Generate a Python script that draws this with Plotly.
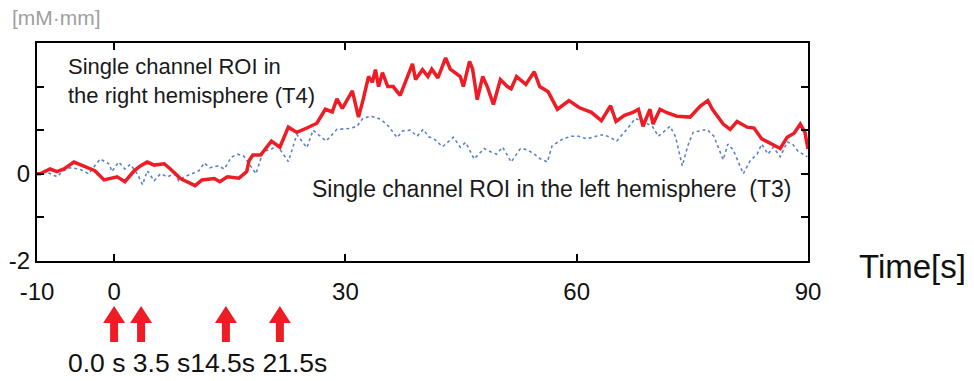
import plotly.graph_objects as go

# Right hemisphere (T4) - red solid
t_t4 = [-10, -9.6, -8.3, -7.4, -6.5, -5.2, -4.4, -3.5, -2.5, -1.3, -0.5, 0.4, 1.4, 2.6, 3.4, 4.3, 5.2,
        6.5, 7.3, 8.6, 10.5, 11.4, 13, 13.7, 14.7, 16.2, 17.2, 17.5, 18, 19, 20.4, 21.5, 22.6, 23.7,
        25, 26.3, 27.4, 28.3, 28.9, 29.6, 30.9, 31.7, 32.3, 33.0, 33.5, 33.9, 34.3, 34.8, 35.5, 36.2,
        37.1, 38.0, 38.7, 39.1, 40.0, 40.7, 41.2, 42.0, 43.0, 43.6, 44.9, 45.3, 46.1, 46.5, 47.1, 47.8,
        48.4, 49.2, 50.1, 51.0, 51.5, 52.2, 53.4, 54.5, 55.2, 56.3, 57.5, 59.0, 60.3, 61.9, 63.2, 64.4,
        65.1, 66.2, 67.3, 68.0, 68.6, 69.5, 69.9, 70.8, 71.7, 73.0, 74.7, 76.0, 77.0, 77.6, 79.0, 79.9,
        80.8, 82.1, 83.0, 84.0, 85.3, 86.4, 87.3, 88.2, 89.0, 89.6, 90]
v_t4 = [0, 0.0, 0.11, 0.05, 0.11, 0.27, 0.21, 0.14, 0.07, -0.14, -0.1, -0.07, -0.18, 0.07, 0.18, 0.27, 0.2,
        0.23, 0.11, -0.11, -0.27, -0.14, -0.11, -0.18, -0.07, -0.1, 0.05, 0.3, 0.43, 0.43, 0.75, 0.61, 1.07, 0.95,
        1.05, 1.16, 1.48, 1.42, 1.72, 1.5, 1.9, 1.3, 1.7, 2.23, 2.1, 2.39, 2.0, 2.32, 2.0, 2.0,
        1.8, 2.23, 2.52, 2.16, 2.39, 2.23, 2.4, 2.2, 2.66, 2.4, 2.23, 2.0, 2.58, 2.4, 1.7, 2.23,
        2.0, 1.59, 2.16, 2.0, 1.95, 2.23, 2.05, 2.34, 2.0, 1.88, 1.48, 1.68, 1.52, 1.41, 1.22, 1.56,
        1.2, 1.34, 1.41, 1.48, 1.09, 1.48, 1.14, 1.48, 1.4, 1.32, 1.3, 1.55, 1.68, 1.48, 1.14, 1.02,
        1.2, 1.07, 1.05, 0.8, 0.68, 0.58, 0.84, 0.93, 1.14, 0.95, 0.57]

# Left hemisphere (T3) - blue dotted
t_t3 = [-10, -9.6, -8.8, -7.4, -6.6, -5.7, -4.5, -3.3, -2.6, -1.8, -0.6, -0.3, 0.6, 1.4, 2.1, 3.0, 3.7,
        4.3, 5.2, 6.0, 6.9, 7.8, 8.4, 9.1, 10.1, 11.0, 11.7, 12.4, 13.5, 14.3, 15.2, 16.0, 16.8, 17.6,
        18.4, 19.3, 20.4, 21.2, 22.6, 23.7, 25.0, 25.8, 26.7, 27.5, 28.9, 30.6, 31.5, 32.3, 33.4, 34.6,
        35.6, 36.7, 37.4, 38.4, 39.3, 40.1, 40.8, 41.5, 42.6, 44.0, 44.9, 45.6, 46.7, 48.0, 48.9, 49.6,
        50.4, 51.5, 52.7, 53.6, 54.5, 55.3, 56.2, 56.8, 58.2, 59.3, 60.3, 61.3, 62.5, 63.5, 64.5, 65.2,
        66.5, 67.6, 68.6, 69.8, 70.6, 72.1, 72.8, 73.7, 74.4, 75.1, 76.9, 77.8, 79.0, 79.6, 80.3, 81.6,
        82.5, 83.4, 84.0, 84.8, 85.5, 86.4, 87.3, 88.0, 88.7, 89.9]
v_t3 = [0, 0.0, 0.05, -0.07, 0.07, 0.14, 0.11, 0.0, 0.16, 0.34, 0.22, 0.05, 0.27, 0.11, 0.22, 0.0, -0.25,
        0.07, -0.16, 0.0, -0.07, 0.0, -0.16, -0.07, 0.0, 0.07, 0.25, 0.14, 0.18, 0.11, 0.38, 0.45, 0.41, 0.2,
        0.0, 0.5, 0.57, 0.64, 0.28, 0.9, 0.6, 1.0, 0.86, 0.75, 1.02, 1.04, 1.09, 1.28, 1.32, 1.25,
        1.09, 0.83, 0.98, 1.0, 0.86, 1.02, 0.85, 0.8, 0.62, 0.84, 0.61, 0.72, 0.34, 0.58, 0.5, 0.45,
        0.61, 0.27, 0.58, 0.55, 0.45, 0.34, 0.27, 0.64, 0.8, 0.86, 0.86, 0.8, 0.86, 0.9, 0.82, 0.75,
        1.02, 1.27, 1.2, 1.09, 0.86, 1.09, 0.86, 0.18, 0.64, 0.95, 1.02, 0.86, 0.32, 0.68, 0.55, 0.0,
        0.3, 0.45, 0.68, 0.45, 0.61, 0.39, 0.73, 0.68, 0.52, 0.39]

x_ticks = [-10, 0, 30, 60, 90]
y_ticks = [-2, -1, 0, 1, 2]
y_tick_text = ["-2", "", "0", "", ""]

stim_times = [0.0, 3.5, 14.5, 21.5]
stim_label = "0.0 s 3.5 s14.5s 21.5s"

FONT = "Liberation Sans, Arial, sans-serif"
RED = "#ee1c25"
BLUE = "#5a84c8"

fig = go.Figure()
fig.add_trace(go.Scatter(x=t_t3, y=v_t3, mode="lines",
                         line=dict(color=BLUE, width=1.6, dash="dot"), showlegend=False))
fig.add_trace(go.Scatter(x=t_t4, y=v_t4, mode="lines",
                         line=dict(color=RED, width=3.5), showlegend=False))

# stimulus arrows (pixel-sized shapes anchored at data x)
arrow_path = "M0,-45 L11,-62 L4,-62 L4,-81 L-4,-81 L-4,-62 L-11,-62 Z"
for t in stim_times:
    fig.add_shape(type="path", xref="x", yref="paper", xsizemode="pixel", ysizemode="pixel",
                  xanchor=t, yanchor=0, path=arrow_path, fillcolor=RED, line=dict(width=0))

fig.add_annotation(x=-6.1, y=-0.47, xref="x", yref="paper", text=stim_label, showarrow=False,
                   xanchor="left", yanchor="middle", borderpad=0,
                   font=dict(size=26.5, color="#111", family=FONT))

fig.add_annotation(x=-6.3, y=2.12, xref="x", yref="y",
                   text="Single channel ROI in<br>the right hemisphere (T4)", showarrow=False,
                   xanchor="left", yanchor="middle", align="left",
                   font=dict(size=22, color="#1a1a1a", family=FONT))
fig.add_annotation(x=25.4, y=-0.34, xref="x", yref="y",
                   text="Single channel ROI in the left hemisphere  (T3)", showarrow=False,
                   xanchor="left", yanchor="middle",
                   font=dict(size=23, color="#1a1a1a", family=FONT))
fig.add_annotation(x=-0.035, y=1.115, xref="paper", yref="paper", text="[mM·mm]", showarrow=False,
                   xanchor="left", yanchor="middle", font=dict(size=21, color="#a0a0a0", family=FONT))
fig.add_annotation(x=1.0636, y=-0.023, xref="paper", yref="paper", text="Time[s]", showarrow=False,
                   xanchor="left", yanchor="middle", font=dict(size=33, color="#111", family=FONT))

fig.update_xaxes(range=[-10, 90], tickvals=x_ticks, ticktext=[str(v) for v in x_ticks],
                 ticks="inside", ticklen=7, tickwidth=1.5, tickcolor="#000",
                 showline=True, linecolor="#000", linewidth=2, mirror="ticks",
                 showgrid=False, zeroline=False, ticklabelstandoff=8, automargin=False,
                 tickfont=dict(size=24, color="#111", family=FONT))
fig.update_yaxes(range=[-2, 3], tickvals=y_ticks, ticktext=y_tick_text,
                 ticks="inside", ticklen=7, tickwidth=1.5, tickcolor="#000",
                 showline=True, linecolor="#000", linewidth=2, mirror="ticks",
                 showgrid=False, zeroline=False, automargin=False,
                 tickfont=dict(size=24, color="#111", family=FONT))

fig.update_layout(width=974, height=381, margin=dict(l=37, r=166, t=43, b=120, autoexpand=False),
                  plot_bgcolor="white", paper_bgcolor="white", hovermode=False)

fig.write_html("out.html", config={"displayModeBar": False},
               post_script="document.body.style.margin='0';document.body.style.overflow='hidden';")
